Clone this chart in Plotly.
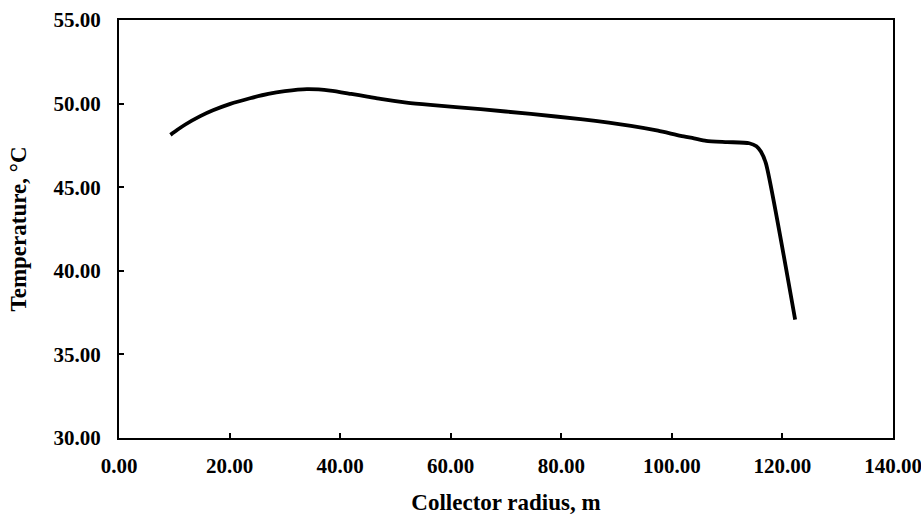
import plotly.graph_objects as go

radius = [9.3, 10.5, 12.0, 14.7, 17.0, 20.0, 23.7, 27.0, 30.0, 34.0, 38.2, 42.0, 44.9,
          47.3, 52.0, 56.3, 65.4, 74.5, 83.5, 92.6, 97.5, 101.6, 104.0, 106.2, 110.0,
          114.0, 115.3, 116.1, 117.0, 122.3]
temperature = [48.13, 48.42, 48.75, 49.25, 49.60, 49.97, 50.32, 50.58, 50.74, 50.86, 50.78,
               50.58, 50.42, 50.28, 50.06, 49.92, 49.67, 49.38, 49.07, 48.67, 48.38, 48.07,
               47.92, 47.77, 47.70, 47.63, 47.45, 47.13, 46.44, 37.08]

x_ticks = [0, 20, 40, 60, 80, 100, 120, 140]
y_ticks = [30, 35, 40, 45, 50, 55]

font_family = "Liberation Serif, Times New Roman, serif"

fig = go.Figure()
fig.add_trace(go.Scatter(
    x=radius, y=temperature, mode="lines",
    line=dict(color="black", width=3.8, shape="spline", smoothing=0.6),
    showlegend=False,
))

axis_common = dict(
    showgrid=False, zeroline=False, showline=True, linecolor="black", linewidth=2,
    mirror=True, ticks="inside", ticklen=5, tickwidth=1.5, tickcolor="black",
    tickfont=dict(family=font_family, size=21, color="black", weight="bold"),
    tickformat=".2f", automargin=False, ticklabeloverflow="allow",
)

fig.update_xaxes(
    range=[0, 140], tickvals=x_ticks, ticklabelstandoff=8, **axis_common,
    title=dict(text="Collector radius, m", standoff=26,
               font=dict(family=font_family, size=23, color="black", weight="bold")),
)
fig.update_yaxes(
    range=[30, 55], tickvals=y_ticks, ticklabelstandoff=12, **axis_common,
    title=dict(text="Temperature, °C", standoff=20,
               font=dict(family=font_family, size=23, color="black", weight="bold")),
)

fig.update_layout(
    width=921, height=515,
    margin=dict(l=119, r=28, t=20, b=77),
    paper_bgcolor="white", plot_bgcolor="white",
)

fig.write_html("out.html")
